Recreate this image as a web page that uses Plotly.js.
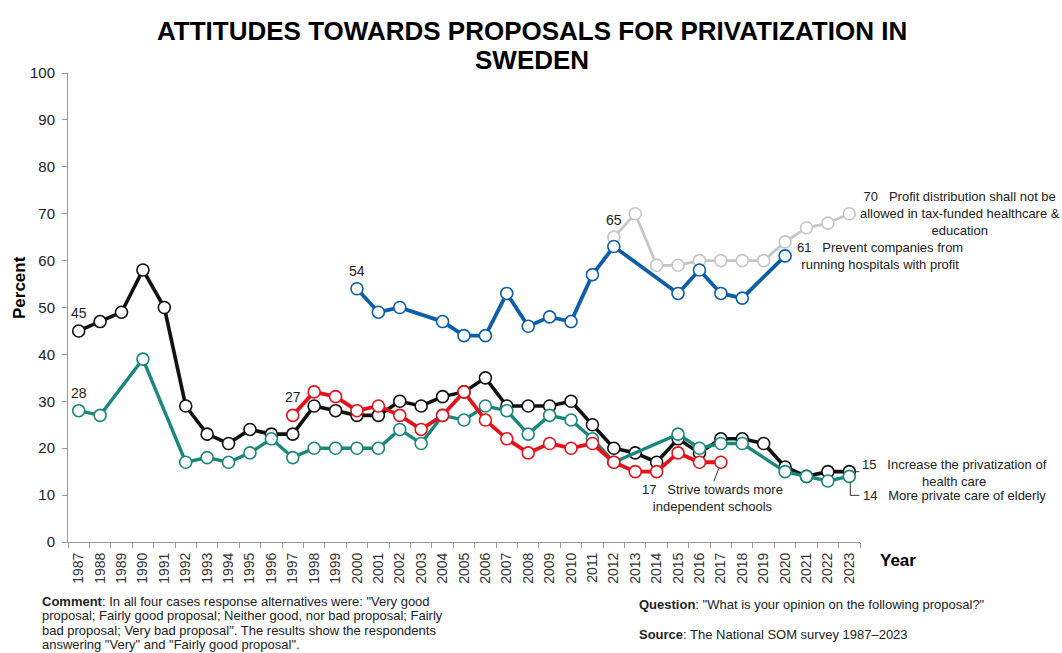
<!DOCTYPE html>
<html>
<head>
<meta charset="utf-8">
<script src="https://cdn.plot.ly/plotly-3.0.1.min.js"></script>
<style>
  html, body { margin: 0; padding: 0; background: #fff; }
  #chart { width: 1062px; height: 653px; }
</style>
</head>
<body>
<div id="chart"></div>
<script>
// ---------- DATA ----------
const years = ["1987","1988","1989","1990","1991","1992","1993","1994","1995","1996","1997","1998","1999","2000","2001","2002","2003","2004","2005","2006","2007","2008","2009","2010","2011","2012","2013","2014","2015","2016","2017","2018","2019","2020","2021","2022","2023"];

// Increase the privatization of health care (black)
const healthYears = ["1987","1988","1989","1990","1991","1992","1993","1994","1995","1996","1997","1998","1999","2000","2001","2002","2003","2004","2005","2006","2007","2008","2009","2010","2011","2012","2013","2014","2015","2016","2017","2018","2019","2020","2021","2022","2023"];
const healthVals = [45,47,49,58,50,29,23,21,24,23,23,29,28,27,27,30,29,31,32,35,29,29,29,30,25,20,19,17,22,19,22,22,21,16,14,15,15];

// More private care of elderly (teal)
const elderlyYears = ["1987","1988","1990","1992","1993","1994","1995","1996","1997","1998","1999","2000","2001","2002","2003","2004","2005","2006","2007","2008","2009","2010","2011","2012","2015","2016","2017","2018","2020","2021","2022","2023"];
const elderlyVals = [28,27,39,17,18,17,19,22,18,20,20,20,20,24,21,27,26,29,28,23,27,26,22,17,23,20,21,21,15,14,13,14];

// Strive towards more independent schools (red)
const schoolYears = ["1997","1998","1999","2000","2001","2002","2003","2004","2005","2006","2007","2008","2009","2010","2011","2012","2013","2014","2015","2016","2017"];
const schoolVals = [27,32,31,28,29,27,24,27,32,26,22,19,21,20,21,17,15,15,19,17,17];

// Prevent companies from running hospitals with profit (blue)
const hospitalYears = ["2000","2001","2002","2004","2005","2006","2007","2008","2009","2010","2011","2012","2015","2016","2017","2018","2020"];
const hospitalVals = [54,49,50,47,44,44,53,46,48,47,57,63,53,58,53,52,61];

// Profit distribution shall not be allowed in tax-funded healthcare & education (gray)
const profitYears = ["2012","2013","2014","2015","2016","2017","2018","2019","2020","2021","2022","2023"];
const profitVals = [65,70,59,59,60,60,60,60,64,67,68,70];

const yTicks = [0,10,20,30,40,50,60,70,80,90,100];

const titleLines = ["ATTITUDES TOWARDS PROPOSALS FOR PRIVATIZATION IN", "SWEDEN"];
const commentLines = [
  "<b>Comment</b>: In all four cases response alternatives were: \"Very good",
  "proposal; Fairly good proposal; Neither good, nor bad proposal; Fairly",
  "bad proposal; Very bad proposal\". The results show the respondents",
  "answering \"Very\" and \"Fairly good proposal\"."
];
const questionText = "<b>Question</b>: \"What is your opinion on the following proposal?\"";
const sourceText = "<b>Source</b>: The National SOM survey 1987\u20132023";

// ---------- STYLE ----------
const C = {
  black: "#111111",
  teal: "#1b877c",
  red: "#e3131b",
  blue: "#0d5ea8",
  gray: "#c6c6c6",
  axis: "#9a9a9a",
  text: "#222222"
};
const FONT = "Liberation Sans, Arial, sans-serif";

// plot area in pixels
const L = 68, R = 860, T = 73, B = 542;
const px2x = p => (p - L) / (R - L);
const py2y = p => (B - p) / (B - T);

function series(x, y, color, width, name) {
  return {
    type: "scatter", mode: "lines+markers", name: name,
    x: x, y: y,
    line: { color: color, width: width },
    marker: { size: 12, color: "#ffffff", line: { color: color, width: 1.6 } },
    hoverinfo: "x+y", cliponaxis: false
  };
}

const last = arr => arr[arr.length - 1];
const first = arr => arr[0];
const idx = y => years.indexOf(y);

const data = [
  series(profitYears, profitVals, C.gray, 2.8, "Profit distribution"),
  series(hospitalYears, hospitalVals, C.blue, 3.8, "Prevent companies"),
  series(healthYears, healthVals, C.black, 3.6, "Increase privatization"),
  series(elderlyYears, elderlyVals, C.teal, 3.4, "Elderly care"),
  series(schoolYears, schoolVals, C.red, 3.8, "Independent schools")
];

const aFont = { family: FONT, size: 13, color: C.text };
const nFont = { family: FONT, size: 14, color: C.text };

const annotations = [
  // title
  { xref: "paper", yref: "paper", x: px2x(532), y: py2y(31), text: "<b>" + titleLines[0] + "</b>", showarrow: false, xanchor: "center", yanchor: "middle", font: { family: FONT, size: 26, color: "#000" } },
  { xref: "paper", yref: "paper", x: px2x(532), y: py2y(60), text: "<b>" + titleLines[1] + "</b>", showarrow: false, xanchor: "center", yanchor: "middle", font: { family: FONT, size: 26, color: "#000" } },
  // axis titles
  { xref: "paper", yref: "paper", x: px2x(19), y: py2y(288), text: "<b>Percent</b>", textangle: -90, showarrow: false, xanchor: "center", yanchor: "middle", font: { family: FONT, size: 17, color: "#000" } },
  { xref: "paper", yref: "paper", x: px2x(898), y: py2y(560), text: "<b>Year</b>", showarrow: false, xanchor: "center", yanchor: "middle", font: { family: FONT, size: 17, color: "#000" } },
  // start labels
  { x: idx(first(healthYears)), y: first(healthVals), text: String(first(healthVals)), showarrow: false, yshift: 18, font: nFont },
  { x: idx(first(elderlyYears)), y: first(elderlyVals), text: String(first(elderlyVals)), showarrow: false, yshift: 18, font: nFont },
  { x: idx(first(schoolYears)), y: first(schoolVals), text: String(first(schoolVals)), showarrow: false, yshift: 18, font: nFont },
  { x: idx(first(hospitalYears)), y: first(hospitalVals), text: String(first(hospitalVals)), showarrow: false, yshift: 18, font: nFont },
  { x: idx(first(profitYears)), y: first(profitVals), text: String(first(profitVals)), showarrow: false, yshift: 17, font: nFont },
  // end labels
  { x: idx(last(profitYears)), y: last(profitVals), text: last(profitVals) + "   Profit distribution shall not be<br>allowed in tax-funded healthcare &amp;<br>education", showarrow: false, xanchor: "left", yanchor: "middle", xshift: 9, align: "center", font: aFont },
  { x: idx(last(hospitalYears)), y: last(hospitalVals), text: last(hospitalVals) + "   Prevent companies from<br>running hospitals with profit", showarrow: false, xanchor: "left", yanchor: "middle", xshift: 10, align: "center", font: aFont },
  { x: idx(last(healthYears)), y: last(healthVals), text: last(healthVals) + "   Increase the privatization of<br>health care", showarrow: false, xanchor: "left", yanchor: "middle", xshift: 11, yshift: -1, align: "center", font: aFont },
  { x: idx(last(elderlyYears)), y: last(elderlyVals), text: last(elderlyVals) + "   More private care of elderly", showarrow: false, xanchor: "left", yanchor: "middle", xshift: 12, yshift: -19, align: "center", font: aFont },
  { x: idx(last(schoolYears)), y: last(schoolVals), text: last(schoolVals) + "   Strive towards more<br>independent schools", showarrow: false, xanchor: "center", yanchor: "middle", xshift: -8, yshift: -36, align: "center", font: aFont },
  // footer
  { xref: "paper", yref: "paper", x: px2x(637), y: py2y(604), text: questionText, showarrow: false, xanchor: "left", yanchor: "middle", font: aFont },
  { xref: "paper", yref: "paper", x: px2x(637), y: py2y(634), text: sourceText, showarrow: false, xanchor: "left", yanchor: "middle", font: aFont }
];
commentLines.forEach((t, i) => {
  annotations.push({ xref: "paper", yref: "paper", x: px2x(40), y: py2y(601 + i * 14.5), text: t, showarrow: false, xanchor: "left", yanchor: "middle", font: aFont });
});

// leader lines (anchored to last data points)
const shapes = [
  { type: "line", xref: "x", yref: "y", xsizemode: "pixel", ysizemode: "pixel", xanchor: idx(last(healthYears)), yanchor: last(healthVals), x0: 6, x1: 10, y0: 0, y1: 0, line: { color: "#333", width: 1 } },
  { type: "line", xref: "x", yref: "y", xsizemode: "pixel", ysizemode: "pixel", xanchor: idx(last(elderlyYears)), yanchor: last(elderlyVals), x0: 1, x1: 1, y0: -6, y1: -19, line: { color: "#333", width: 1 } },
  { type: "line", xref: "x", yref: "y", xsizemode: "pixel", ysizemode: "pixel", xanchor: idx(last(elderlyYears)), yanchor: last(elderlyVals), x0: 1, x1: 10, y0: -19, y1: -19, line: { color: "#333", width: 1 } },
  { type: "line", xref: "x", yref: "y", xsizemode: "pixel", ysizemode: "pixel", xanchor: idx(last(schoolYears)), yanchor: last(schoolVals), x0: -2, x1: -7, y0: -6, y1: -19, line: { color: "#333", width: 1 } }
];

const layout = {
  width: 1062, height: 653,
  margin: { l: L, r: 1062 - R, t: T, b: 653 - B, pad: 0 },
  paper_bgcolor: "#ffffff", plot_bgcolor: "#ffffff",
  showlegend: false,
  font: { family: FONT, color: C.text },
  xaxis: {
    type: "category", categoryorder: "array", categoryarray: years,
    range: [-0.5, years.length - 0.5],
    tickvals: years, ticktext: years,
    tickson: "boundaries", ticks: "outside", ticklen: 5, tickcolor: C.axis, tickwidth: 1,
    tickangle: -90, tickfont: { family: FONT, size: 14, color: "#333" },
    ticklabelstandoff: 4,
    showline: true, linecolor: C.axis, linewidth: 1,
    showgrid: false, zeroline: false, fixedrange: true
  },
  yaxis: {
    range: [0, 100], tickvals: yTicks,
    ticks: "outside", ticklen: 5, tickcolor: C.axis, tickwidth: 1,
    tickfont: { family: FONT, size: 15, color: "#222" },
    ticklabelstandoff: 4,
    showline: true, linecolor: C.axis, linewidth: 1,
    showgrid: false, zeroline: false, fixedrange: true
  },
  annotations: annotations,
  shapes: shapes
};

Plotly.newPlot("chart", data, layout, { displayModeBar: false, staticPlot: true });
</script>
</body>
</html>
